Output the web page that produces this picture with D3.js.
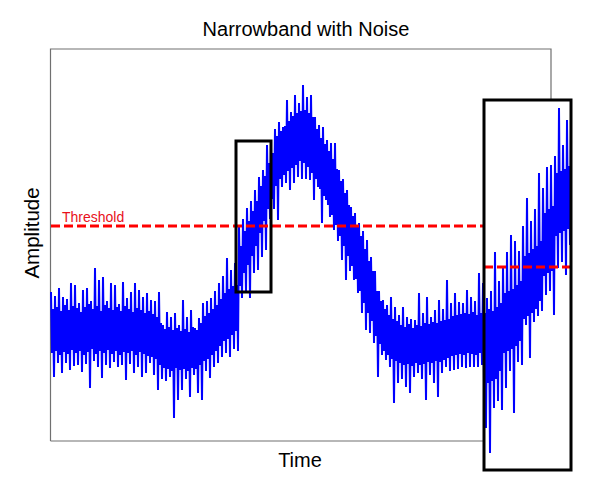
<!DOCTYPE html>
<html>
<head>
<meta charset="utf-8">
<script src="https://cdn.jsdelivr.net/npm/d3@7"></script>
<style>
  html, body { margin: 0; padding: 0; background: #fff; }
  svg { display: block; font-family: "Liberation Sans", Arial, sans-serif; }
</style>
</head>
<body>
<svg id="chart" width="595" height="482"></svg>
<script>
// sample spacing along the time axis
const sampleStep = 1;

// amplitude readings, one per sample (arbitrary units, 0 = bottom of frame)
// read in groups of four: spike up, band low, band high, spike down
const amplitude = [
  149, 88, 132, 64,  145, 90, 134, 78,  153, 86, 130, 68,  144, 89, 136, 78,
  142, 87, 131, 71,  158, 91, 135, 75,  156, 88, 133, 76,  138, 90, 129, 69,
  151, 86, 134, 77,  153, 89, 137, 53,  140, 92, 132, 80,  173, 87, 135, 74,
  161, 90, 130, 63,  164, 88, 136, 76,  140, 91, 133, 73,  158, 87, 131, 79,
  156, 90, 134, 74,  137, 86, 130, 76,  159, 89, 135, 61,  143, 88, 132, 77,
  149, 90, 129, 68,  158, 86, 133, 74,  151, 89, 131, 64,  144, 87, 128, 68,
  148, 85, 130, 78,  141, 84, 127, 66,  140, 82, 124, 51,  149, 76, 118, 62,
  116, 73, 112, 60,  129, 72, 114, 64,  124, 70, 111, 23,  128, 73, 113, 41,
  116, 71, 110, 51,  141, 72, 112, 62,  124, 70, 109, 44,  131, 73, 114, 66,
  113, 72, 111, 48,  123, 76, 118, 41,  138, 80, 125, 70,  140, 82, 128, 63,
  143, 86, 132, 74,  150, 90, 136, 78,  158, 95, 142, 84,  165, 100, 148, 88,
  183, 102, 152, 84, 171, 106, 155, 92, 178, 110, 156, 90, 214, 155, 195, 143,
  222, 168, 210, 148, 233, 176, 220, 143, 240, 185, 230, 168, 251, 195, 240, 171,
  264, 208, 255, 184, 271, 220, 265, 191, 296, 232, 278, 222, 294, 242, 288, 232,
  312, 255, 305, 221, 319, 262, 310, 254, 314, 266, 315, 258, 341, 270, 320, 251,
  329, 273, 325, 258, 346, 276, 328, 264, 338, 280, 330, 262, 356, 278, 331, 262,
  344, 274, 328, 261, 346, 268, 324, 241, 324, 262, 312, 254, 316, 252, 303, 218,
  314, 245, 297, 241, 301, 236, 290, 224, 298, 226, 282, 211, 298, 216, 272, 200,
  271, 205, 260, 181, 262, 195, 248, 161, 251, 185, 236, 170, 234, 175, 225, 161,
  228, 162, 215, 148, 218, 150, 205, 128, 210, 138, 192, 111, 201, 128, 180, 108,
  184, 120, 170, 98,  170, 105, 150, 64,  150, 97, 140, 86,  141, 90, 132, 81,
  136, 86, 126, 74,  144, 82, 122, 38,  134, 80, 120, 58,  126, 78, 116, 62,
  134, 76, 114, 54,  124, 77, 117, 48,  122, 75, 113, 64,  121, 78, 116, 68,
  148, 76, 115, 62,  128, 77, 118, 41,  144, 79, 117, 66,  124, 78, 119, 58,
  131, 80, 118, 44,  141, 79, 120, 68,  132, 81, 121, 74,  161, 83, 122, 70,
  138, 85, 125, 71,  148, 86, 126, 72,  139, 87, 127, 74,  138, 86, 128, 73,
  151, 88, 127, 74,  144, 87, 129, 74,  140, 86, 126, 74,  168, 88, 128, 76,
  158, 62, 128, 13,  143, 58, 132, -12, 150, 60, 130, 33,  189, 62, 134, 40,
  160, 70, 138, 31,  175, 88, 148, 53,  189, 90, 150, 70,  206, 92, 152, 28,
  200, 95, 156, 79,  190, 100, 160, 76, 215, 122, 185, 116, 243, 125, 188, 83,
  220, 128, 192, 119, 232, 132, 195, 125, 268, 140, 200, 130, 253, 165, 228, 146,
  274, 168, 232, 150, 276, 170, 235, 126, 285, 205, 268, 173, 333, 208, 270, 179,
  296, 210, 272, 166, 321, 212, 275, 196,
  313
];

// annotation values
const thresholdLevel = 215;
const shiftedLevel = 174;
const riseWindow = { t0: 185, t1: 220, a0: 149, a1: 300 };
const endWindow = { t0: 433, t1: 520, a0: -29, a1: 341 };

const titleText = "Narrowband with Noise";
const xLabel = "Time";
const yLabel = "Amplitude";
const thresholdLabel = "Threshold";

const svg = d3.select("#chart");

const x = d3.scaleLinear().domain([0, 500]).range([51, 551]);
const y = d3.scaleLinear().domain([0, 392]).range([441, 49]);

const series = amplitude.map((a, i) => ({ t: i * sampleStep, a: a }));

// plot frame (left, top, right down to the end window, bottom)
const frame = svg.append("g").attr("class", "frame")
  .attr("stroke", "#707070").attr("stroke-width", 1.2).attr("fill", "none");
frame.append("path")
  .attr("d", `M${x(0) - 0.5},${y(0)} V${y(392)} H${x(500)} V${y(endWindow.a1)}`);
frame.append("line")
  .attr("x1", x(0) - 0.5).attr("x2", x(endWindow.t0))
  .attr("y1", y(0)).attr("y2", y(0));

// white panel behind the end window
svg.append("rect")
  .attr("x", x(endWindow.t0)).attr("y", y(endWindow.a1))
  .attr("width", x(endWindow.t1) - x(endWindow.t0))
  .attr("height", y(endWindow.a0) - y(endWindow.a1))
  .attr("fill", "#fff");

// noisy signal
const line = d3.line()
  .x(d => x(d.t))
  .y(d => y(d.a));

svg.append("path")
  .datum(series)
  .attr("class", "signal")
  .attr("fill", "none")
  .attr("stroke", "#0000ff")
  .attr("stroke-width", 2)
  .attr("stroke-linejoin", "bevel")
  .attr("d", line);

// threshold lines
svg.append("line")
  .attr("x1", x(0)).attr("x2", x(endWindow.t0))
  .attr("y1", y(thresholdLevel)).attr("y2", y(thresholdLevel))
  .attr("stroke", "#ff0000").attr("stroke-width", 3)
  .attr("stroke-dasharray", "9,4");

svg.append("line")
  .attr("x1", x(endWindow.t0)).attr("x2", x(endWindow.t1))
  .attr("y1", y(shiftedLevel)).attr("y2", y(shiftedLevel))
  .attr("stroke", "#ff0000").attr("stroke-width", 3)
  .attr("stroke-dasharray", "9,4");

svg.append("text")
  .attr("x", x(11)).attr("y", y(thresholdLevel) - 4)
  .attr("fill", "#e8101a").attr("font-size", 14)
  .text(thresholdLabel);

// annotation boxes
svg.selectAll(".window")
  .data([riseWindow, endWindow])
  .enter().append("rect")
  .attr("class", "window")
  .attr("x", d => x(d.t0)).attr("y", d => y(d.a1))
  .attr("width", d => x(d.t1) - x(d.t0))
  .attr("height", d => y(d.a0) - y(d.a1))
  .attr("fill", "none").attr("stroke", "#000").attr("stroke-width", 3);

// titles
svg.append("text")
  .attr("x", 306).attr("y", 36)
  .attr("text-anchor", "middle").attr("font-size", 20)
  .text(titleText);

svg.append("text")
  .attr("x", 300).attr("y", 467)
  .attr("text-anchor", "middle").attr("font-size", 20)
  .text(xLabel);

svg.append("text")
  .attr("transform", "translate(39,233) rotate(-90)")
  .attr("text-anchor", "middle").attr("font-size", 20.5)
  .text(yLabel);
</script>
</body>
</html>
